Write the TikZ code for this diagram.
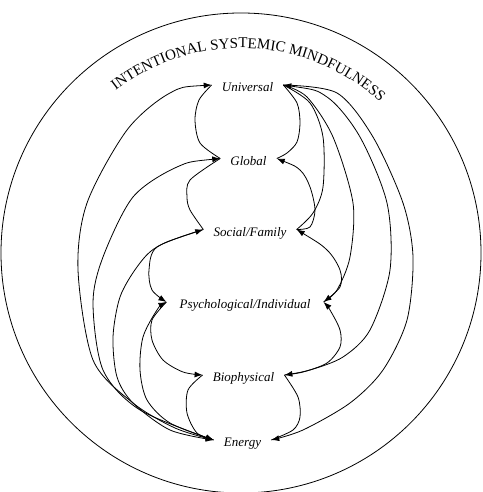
\documentclass[tikz,border=0pt]{standalone}
\usepackage{fontspec}
\setmainfont{Liberation Serif}
\usetikzlibrary{arrows.meta,decorations.text}
\begin{document}
\begin{tikzpicture}[x=1pt,y=1pt,
  >={Latex[length=8pt,width=6pt]},
  lbl/.style={font=\itshape\fontsize{13}{15}\selectfont, inner xsep=10pt, inner ysep=0pt, text height=15pt, text depth=1pt},
  link/.style={line width=0.8pt}]
\useasboundingbox (0,0) rectangle (482,492);
\draw[line width=0.8pt] (241,239) circle[radius=240];
\path[decorate, decoration={text along path, text align=center,
  text={|\fontsize{15}{17}\selectfont|INTENTIONAL SYSTEMIC MINDFULNESS}}]
  (241,239) ++(135:205) arc[start angle=135, end angle=40, radius=205];
% nodes
\node[lbl] (U) at (247.5,407) {Universal};
\node[lbl] (G) at (248.5,333.5) {Global};
\node[lbl] (S) at (250,262.5) {Social/Family};
\node[lbl,inner xsep=13pt] (P) at (245,190) {Psychological/Individual};
\node[lbl] (B) at (243.5,117) {Biophysical};
\node[lbl] (E) at (242.5,52) {Energy};
% left side
\draw[link] plot[smooth] coordinates {(U.west) (199,392) (195,372) (200,349) (G.west)};
\draw[link] plot[smooth] coordinates {(G.west) (190,312) (187,295) (190,282) (S.west)};
\draw[link,->] plot[smooth] coordinates {(S.west) (157,245) (149,222) (152,202) (P.west)};
\draw[link,<->] plot[smooth] coordinates {(S.west) (157,245) (137,225) (120,195) (113,155) (117,115) (133,89) (170,62) (E.west)};
\draw[link,->] plot[smooth] coordinates {(P.west) (152,172) (152,152) (163,132) (183,120) (B.west)};
\draw[link] plot[smooth] coordinates {(B.west) (188,102) (187,79) (197,59) (E.west)};
\draw[link,<->] plot[smooth] coordinates {(P.west) (157,182) (143,155) (140,122) (147,92) (170,69) (E.west)};
\draw[link,<->] plot[smooth] coordinates {(G.west) (177,325) (133,295) (103,235) (93,189) (103,122) (140,82) (E.west)};
\draw[link,<->] plot[smooth] coordinates {(U.west) (170,399) (127,362) (87,289) (78,222) (93,132) (133,89) (175,64) (E.west)};
% right side
\draw[link] plot[smooth] coordinates {(U.east) (297,389) (300,369) (297,350) (287,339) (G.east)};
\draw[link,<-] plot[smooth] coordinates {(G.east) (300,322) (310,305) (315,282) (310,265) (S.east)};
\draw[link] plot[smooth] coordinates {(U.east) (310,389) (323,355) (323,305) (313,279) (S.east)};
\draw[link,<->] plot[smooth] coordinates {(S.east) (327,242) (340,222) (340,205) (P.east)};
\draw[link] plot[smooth] coordinates {(U.east) (307,395) (333,355) (353,289) (350,235) (337,202) (P.east)};
\draw[link,<-] plot[smooth] coordinates {(P.east) (330,182) (340,162) (340,145) (327,129) (303,120) (B.east)};
\draw[link,<->] plot[smooth] coordinates {(U.east) (327,395) (360,355) (387,289) (390,222) (370,162) (343,135) (310,122) (B.east)};
\draw[link] plot[smooth] coordinates {(B.east) (298,95) (300,75) (293,62) (E.east)};
\draw[link,->] plot[smooth] coordinates {(U.east) (337,399) (373,355) (403,289) (413,235) (407,172) (383,122) (350,89) (303,62) (E.east)};
\end{tikzpicture}
\end{document}
